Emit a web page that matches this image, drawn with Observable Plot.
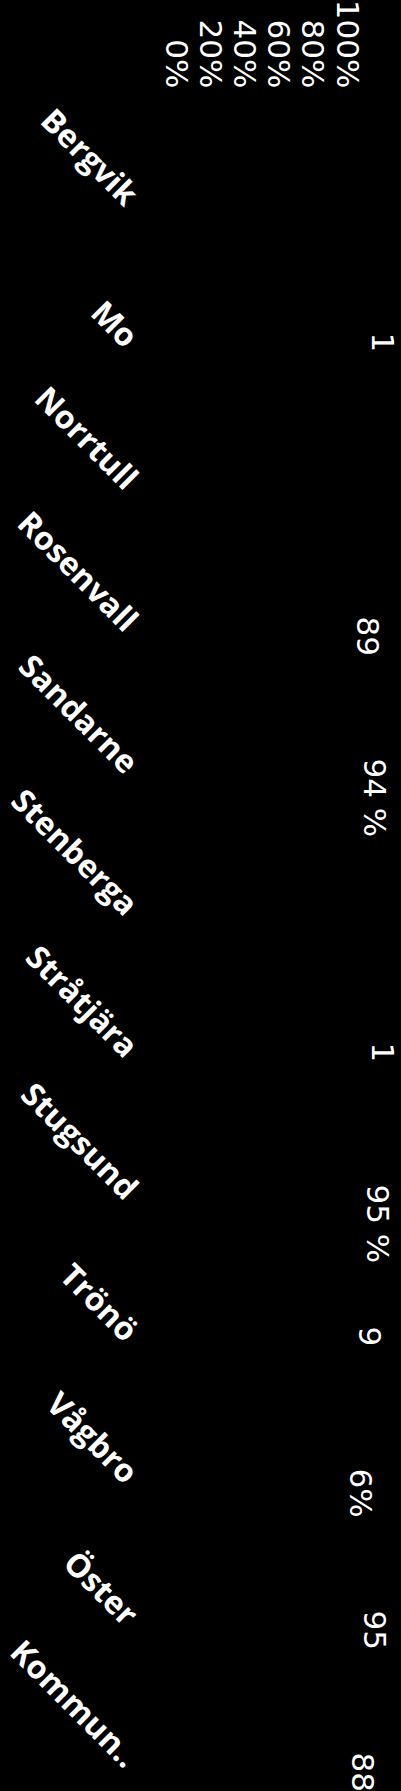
<!DOCTYPE html>
<html><head><meta charset="utf-8">
<script src="https://cdn.jsdelivr.net/npm/d3@7"></script>
<script src="https://cdn.jsdelivr.net/npm/@observablehq/plot@0.6"></script>
<style>
html,body{margin:0;padding:0;background:#000;}
#chart svg{display:block;}
</style></head><body><div id="chart"></div>
<script>
const categories = ["Bergvik","Mo","Norrtull","Rosenvall","Sandarne","Stenberga","Stråtjära","Stugsund","Trönö","Vågbro","Öster","Kommun.."];
const percentTicks = [0, 0.2, 0.4, 0.6, 0.8, 1];
const labelCategories = ["Mo","Rosenvall","Sandarne","Stråtjära","Stugsund","Trönö","Vågbro","Öster","Kommun.."];
const labelTexts = ["1","89","94 %","1","95 %","9","6%","95","88"];
const labelAt = [1.21, 1.12, 1.16, 1.21, 1.18, 1.13, 1.08, 1.16, 1.09];

const labels = labelCategories.map((c, i) => ({category: c, text: labelTexts[i], at: labelAt[i]}));

const chart = Plot.plot({
  width: 401, height: 1791,
  marginTop: 90, marginLeft: 135, marginRight: 0, marginBottom: 0,
  style: {background: "#000", color: "#fff"},
  x: {domain: [0, 1], range: [175, 346]},
  y: {type: "point", domain: categories, range: [199, 1762], padding: 0},
  marks: [
    Plot.axisX(percentTicks, {anchor: "top", tickSize: 0, tickPadding: 2, tickRotate: 90, textAnchor: "end", lineAnchor: "middle", tickFormat: d3.format(".0%"), fill: "#fff", fontSize: 31, fontFamily: "DejaVu Sans", label: null}),
    Plot.axisY({anchor: "left", tickSize: 0, tickPadding: 4, tickRotate: 45, textAnchor: "end", lineAnchor: "middle", fill: "#fff", fontSize: 32, fontFamily: "Open Sans", fontWeight: "bold", label: null}),
    Plot.text(labels, {x: "at", y: "category", text: "text", rotate: 90, textAnchor: "start", lineAnchor: "middle", dy: -10, fill: "#fff", fontSize: 31, fontFamily: "DejaVu Sans"})
  ]
});
document.getElementById("chart").appendChild(chart);
</script>
</body></html>
